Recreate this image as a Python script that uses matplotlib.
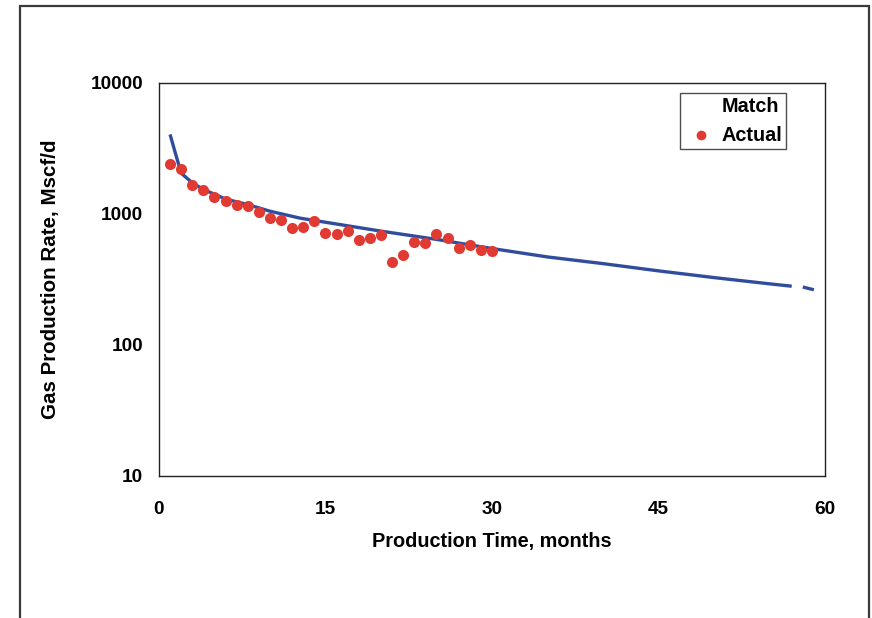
import numpy as np
import matplotlib
matplotlib.use("Agg")
import matplotlib.pyplot as plt
from matplotlib.lines import Line2D
from matplotlib.patches import Rectangle

# actual monthly gas rates, Mscf/d
months = list(range(1, 31))
actual_rate = [2410, 2210, 1670, 1530, 1350, 1260, 1175, 1150, 1035, 930,
               900, 780, 795, 885, 715, 705, 740, 637, 652, 695,
               432, 487, 611, 597, 708, 656, 553, 583, 534, 525]

# history match curve (nan = gap in the line)
match_t = [1, 1.5, 2, 3, 4, 6, 8, 10, 12.7, 15, 20, 25, 30, 35, 40, 45, 50, 55, 57, 57.5, 58, 59]
match_q = [4050, 2870, 2050, 1730, 1540, 1300, 1180, 1050, 930, 865, 740, 640, 545, 470,
           418, 368, 327, 293, 281, np.nan, 277, 264]

x_ticks = [0, 15, 30, 45, 60]
y_ticks = [10, 100, 1000, 10000]

plt.rcParams['font.family'] = ['Liberation Sans', 'DejaVu Sans']
plt.rcParams['font.weight'] = 'bold'

fig = plt.figure(figsize=(8.72, 6.18), dpi=100)
ax = fig.add_axes([0.1823, 0.2298, 0.7638, 0.6359])

ax.plot(match_t, match_q, color='#2f4d9c', lw=2.4, solid_capstyle='butt', zorder=2)
ax.plot(months, actual_rate, 'o', color='#e03a32', ms=8, mec='none', zorder=3)

ax.set_yscale('log')
ax.set_xlim(0, 60)
ax.set_ylim(10, 10000)
ax.set_xticks(x_ticks)
ax.set_xticklabels([str(t) for t in x_ticks])
ax.set_yticks(y_ticks)
ax.set_yticklabels([str(t) for t in y_ticks])
ax.minorticks_off()
ax.tick_params(length=0, labelsize=13.7)
ax.tick_params(axis='y', pad=11.5)
ax.tick_params(axis='x', pad=18)
for s in ax.spines.values():
    s.set_linewidth(1.0)
    s.set_color('#222222')

ax.set_xlabel('Production Time, months', fontsize=14.3, fontweight='bold', labelpad=10)
ax.set_ylabel('Gas Production Rate, Mscf/d', fontsize=14.8, fontweight='bold', labelpad=22)

handles = [Line2D([], [], color='none'),
           Line2D([], [], ls='none', marker='o', color='#e03a32', ms=7, mec='none')]
leg = ax.legend(handles, ['Match', 'Actual'], loc='upper right', bbox_to_anchor=(0.9414, 0.9746),
                borderaxespad=0, frameon=True, fancybox=False, edgecolor='#222222', fontsize=14.3,
                handlelength=1.8, handletextpad=0.12, borderpad=0.18, labelspacing=0.55,
                markerfirst=True)
leg.get_frame().set_linewidth(1.0)
for t in leg.get_texts():
    t.set_fontweight('bold')

# outer frame of the figure, open at the bottom
fig.patches.append(Rectangle((19.5 / 872, -0.05), (868.5 - 19.5) / 872, 1.05 - 6.5 / 618,
                             transform=fig.transFigure, fill=False, lw=1.6,
                             edgecolor='#3a3a3a', clip_on=False))

fig.savefig('out.png', dpi=100)
